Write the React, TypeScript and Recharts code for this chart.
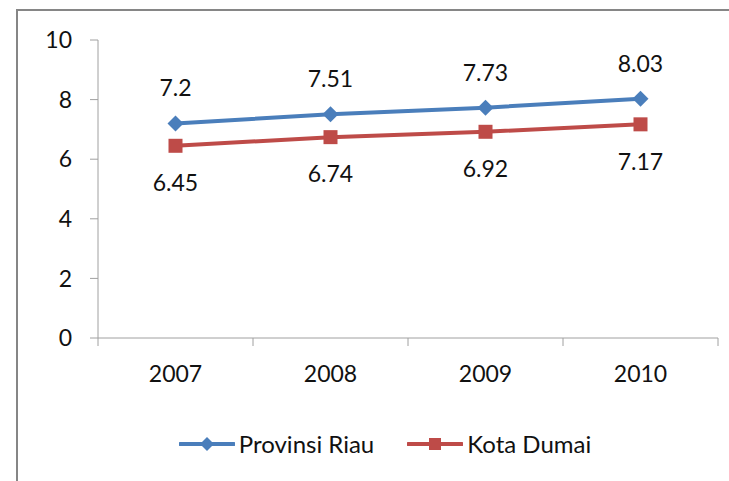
import React from 'react';
import { LineChart, Line, XAxis, YAxis, Legend, LabelList } from 'recharts';

const years = ['2007', '2008', '2009', '2010'];
const provinsiRiau = [7.2, 7.51, 7.73, 8.03];
const kotaDumai = [6.45, 6.74, 6.92, 7.17];
const yTicks = [0, 2, 4, 6, 8, 10];

const data = years.map((year, i) => ({
    year,
    riau: provinsiRiau[i],
    dumai: kotaDumai[i],
}));

const W = 729;
const H = 481;
const M = { top: 40, right: 11, left: 0, bottom: 53 };
const Y_AXIS_W = 98;
const BAND = (W - M.left - M.right - Y_AXIS_W) / years.length;
const FONT = 'Lato, "Open Sans", sans-serif';
const AXIS = '#a0a0a0';
const BLUE = '#4a7ebb';
const RED = '#be4b48';

const YearTick = (props: any) => {
    const { x, y, payload, index } = props;
    const left = x - BAND / 2;
    return (
        <g>
            <line x1={left} y1={y - 8} x2={left} y2={y} stroke={AXIS} />
            {index === years.length - 1 && (
                <line x1={x + BAND / 2} y1={y - 8} x2={x + BAND / 2} y2={y} stroke={AXIS} />
            )}
            <text x={x} y={y + 36} textAnchor="middle" fontSize={23} fill="#111" fontFamily={FONT}>
                {payload.value}
            </text>
        </g>
    );
};

const Diamond = ({ cx, cy, size = 8, fill }: any) => (
    <path d={`M${cx},${cy - size} L${cx + size},${cy} L${cx},${cy + size} L${cx - size},${cy} Z`} fill={fill} />
);

const Square = ({ cx, cy, size = 7, fill }: any) => (
    <rect x={cx - size} y={cy - size} width={size * 2} height={size * 2} fill={fill} />
);

const LegendContent = () => {
    const items = [
        { name: 'Provinsi Riau', color: BLUE, shape: 'diamond' },
        { name: 'Kota Dumai', color: RED, shape: 'square' },
    ];
    return (
        <div style={{ display: 'flex', justifyContent: 'center', alignItems: 'center', paddingLeft: 41 }}>
            {items.map((it, i) => (
                <div key={it.name} style={{ display: 'flex', alignItems: 'center', marginRight: i === 0 ? 33 : 0 }}>
                    <svg width={56} height={20} style={{ marginRight: 4 }}>
                        <line x1={1} y1={10} x2={55} y2={10} stroke={it.color} strokeWidth={4} strokeLinecap="round" />
                        {it.shape === 'diamond' ? (
                            <Diamond cx={28} cy={10} size={7} fill={it.color} />
                        ) : (
                            <Square cx={28} cy={10} size={6} fill={it.color} />
                        )}
                    </svg>
                    <span style={{ fontFamily: FONT, fontSize: 24, color: '#111' }}>{it.name}</span>
                </div>
            ))}
        </div>
    );
};

export default function App() {
    return (
        <div style={{ position: 'absolute', left: 0, top: 0, width: W, height: H, background: '#fff', overflow: 'hidden' }}>
            <div
                style={{
                    position: 'absolute',
                    left: 16,
                    top: 9,
                    width: W,
                    height: H,
                    border: '2px solid #868686',
                }}
            />
            <LineChart width={W} height={H} data={data} margin={M}>
                <XAxis
                    dataKey="year"
                    scale="band"
                    height={50}
                    stroke={AXIS}
                    tickLine={false}
                    tick={<YearTick />}
                    interval={0}
                />
                <YAxis
                    domain={[0, 10]}
                    ticks={yTicks}
                    width={Y_AXIS_W}
                    stroke={AXIS}
                    tickSize={8}
                    tickMargin={18}
                    tick={{ fill: '#111', fontSize: 23, fontFamily: FONT }}
                    interval={0}
                />
                <Legend
                    height={40}
                    content={<LegendContent />}
                    wrapperStyle={{ top: 429, left: 0, width: W }}
                />
                <Line
                    dataKey="riau"
                    name="Provinsi Riau"
                    stroke={BLUE}
                    strokeWidth={4}
                    dot={<Diamond size={8} fill={BLUE} />}
                    isAnimationActive={false}
                >
                    <LabelList dataKey="riau" position="top" offset={27} fill="#111" fontSize={23} fontFamily={FONT} />
                </Line>
                <Line
                    dataKey="dumai"
                    name="Kota Dumai"
                    stroke={RED}
                    strokeWidth={4}
                    dot={<Square size={7} fill={RED} />}
                    isAnimationActive={false}
                >
                    <LabelList dataKey="dumai" position="bottom" offset={29} fill="#111" fontSize={23} fontFamily={FONT} />
                </Line>
            </LineChart>
        </div>
    );
}
